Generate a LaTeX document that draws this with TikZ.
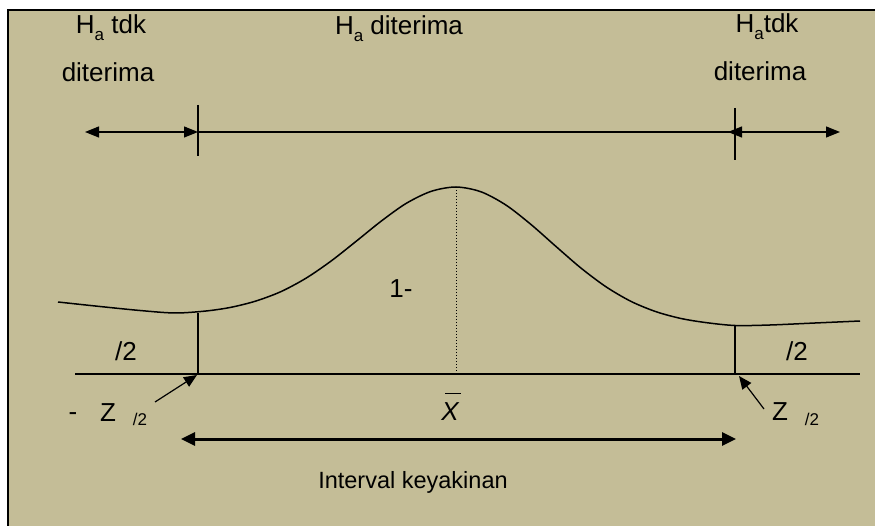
\documentclass[tikz,border=0pt]{standalone}
\usepackage{fontspec}
\setmainfont{Liberation Sans}
\usetikzlibrary{arrows.meta}
\definecolor{khaki}{RGB}{196,189,151}
\newcommand{\subA}{\raisebox{-0.25em}{\fontsize{17}{18}\selectfont a}}
\begin{document}
\begin{tikzpicture}[x=1pt,y=-1pt,line width=1.2pt,
  lbl/.style={font=\fontsize{26}{28}\selectfont,inner sep=0pt,anchor=base},
  lblb/.style={font=\fontsize{23.5}{26}\selectfont,inner sep=0pt,anchor=base},
  sm/.style={font=\fontsize{17}{18}\selectfont,inner sep=0pt,anchor=base},
  tipboth/.style={{Triangle[length=14pt,width=11pt]}-{Triangle[length=14pt,width=11pt]}},
  tipone/.style={-{Triangle[length=13pt,width=11pt]}},
  thickarrow/.style={line width=3pt,{Triangle[length=14pt,width=13pt]}-{Triangle[length=14pt,width=13pt]}},
  tick/.style={line width=1.3pt}]
\useasboundingbox (0,0) rectangle (875,526);
\fill[khaki] (8,10) rectangle (875,526);
\draw[line width=2pt] (8,526) -- (8,10) -- (875,10);

% labels top
\node[lbl] (hl1) at (111,34) {H\subA\ tdk};
\node[lbl] (hl2) at (108,82) {diterima};
\node[lbl] (hm) at (399,35) {H\subA\ diterima};
\node[lbl] (hr1) at (767,33) {H\subA tdk};
\node[lbl] (hr2) at (760,81) {diterima};

% top arrows
\coordinate (tl1) at (198,105);
\coordinate (tl2) at (198,156);
\coordinate (tr1) at (735,108);
\coordinate (tr2) at (735,160);
\coordinate (al) at (85,132);
\coordinate (am) at (198,132);
\coordinate (ar0) at (728,132);
\coordinate (ar1) at (735,132);
\coordinate (ar) at (840,132);
\draw[tick] (tl1) -- (tl2);
\draw[tick] (tr1) -- (tr2);
\draw[tipboth] (al) -- (am);
\draw (am) -- (ar1);
\draw[tipboth] (ar0) -- (ar);

% curve
\draw[line width=1.5pt] plot[smooth,tension=0.5] coordinates {
 (58,302) (100,306.5) (140,310.5) (175,313) (206,311) (231,307.3) (256,301)
 (281,291.6) (306,278.2) (331,261.1) (356,241.4) (381,221.3) (406,203.5)
 (431,191.4) (456,187) (481,191.8) (506,205.1) (531,224.5) (556,246.5)
 (581,268.1) (606,286.8) (631,301.4) (656,311.7) (681,318.5) (706,322.6)
 (735,325.5) (770,325) (815,323) (860,321)};

% base line and verticals
\coordinate (b0) at (75,374);
\coordinate (b1) at (860,374);
\coordinate (bl) at (198,374);
\coordinate (br) at (735,374);
\coordinate (bm) at (456,374);
\coordinate (cl) at (198,313);
\coordinate (cr) at (735,325);
\coordinate (pk) at (456,187);
\draw (b0) -- (b1);
\draw[tick] (cl) -- (bl);
\draw[tick] (cr) -- (br);
\draw[line width=1pt,dotted] (pk) -- (bm);

% middle labels
\node[lbl] (one) at (401,298) {1-};
\node[lbl] (al2) at (126,360) {/2};
\node[lbl] (ar2) at (797,360) {/2};
\node[lbl] (xbar) at (450,420) {\itshape\rlap{\hspace{0.15em}\raisebox{1.0em}{\rule{0.6em}{1.2pt}}}X};

% z labels
\node[lbl] (minus) at (73,420) {-};
\node[lbl] (zl) at (108,421) {Z};
\node[sm] (zl2) at (140,425) {/2};
\node[lbl] (zr) at (780,420) {Z};
\node[sm] (zr2) at (812,425) {/2};
\coordinate (zla) at (155,402);
\coordinate (zra) at (764,409);
\draw[tipone] (zla) -- (197,375);
\draw[tipone] (zra) -- (739,376);

% interval
\coordinate (il) at (181,439);
\coordinate (ir) at (736,439);
\draw[thickarrow] (il) -- (ir);
\node[lblb] (iv) at (413,488) {Interval keyakinan};
\end{tikzpicture}
\end{document}
